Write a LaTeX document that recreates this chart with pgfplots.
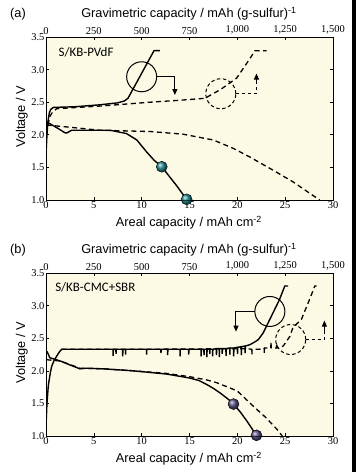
\documentclass[border=0pt]{standalone}
\usepackage{fontspec}
\setmainfont{Liberation Sans}
\newfontfamily\tickfont{Liberation Serif}
\newfontfamily\calfont{Carlito}
\usepackage{pgfplots}
\pgfplotsset{compat=1.18}
\usetikzlibrary{arrows.meta}
\definecolor{bgc}{RGB}{252,249,228}
\definecolor{tealc}{RGB}{30,135,140}
\definecolor{purc}{RGB}{85,78,130}
\pgfplotsset{
 mainax/.style={
  scale only axis, width=287bp, height=163bp,
  xmin=0, xmax=30, ymin=1, ymax=3.5,
  clip mode=individual,
  axis background/.style={fill=bgc},
  xtick={0,5,...,30}, ytick={1,1.5,...,3.5},
  xtick pos=left,
  tick align=inside, major tick length=3bp,
  tick style={line width=0.6bp, black},
  /pgf/number format/assume math mode=true,
  tick label style={font=\tickfont\fontsize{10.5}{11}\selectfont},
  yticklabel style={/pgf/number format/fixed, /pgf/number format/fixed zerofill, /pgf/number format/precision=1, xshift=2bp},
  xticklabel style={yshift=1.5bp},
  axis line style={line width=0.9bp},
  xlabel={Areal capacity / mAh cm\textsuperscript{-2}},
  ylabel={Voltage / V},
  label style={font=\fontsize{12.8}{14}\selectfont},
  xlabel style={at={(axis description cs:0.498,-0.141)}, anchor=center},
  ylabel style={at={(axis description cs:-0.084,0.51)}, anchor=center},
 },
 topax/.style={
  scale only axis, width=287bp, height=163bp,
  xmin=0, xmax=1500, ymin=1, ymax=3.5,
  hide y axis,
  xtick={0,250,...,1500},
  xticklabels={0,250,500,750,{1,000},{1,250},{1,500}},
  xtick pos=right, xticklabel pos=right,
  tick align=inside, major tick length=3bp,
  tick style={line width=0.6bp, black},
  /pgf/number format/assume math mode=true,
  tick label style={font=\tickfont\fontsize{10.5}{11}\selectfont},
  xticklabel style={yshift=-1bp},
  axis line style={line width=0.9bp},
  xlabel={Gravimetric capacity / mAh (g-sulfur)\textsuperscript{-1}},
  label style={font=\fontsize{12.8}{14}\selectfont},
  xlabel style={at={(axis description cs:0.498,1.141)}, anchor=center},
 },
 sline/.style={black, line width=1.4bp},
 dline/.style={black, line width=1.3bp, dash pattern=on 5bp off 3.5bp},
}
\begin{document}
\begin{tikzpicture}
\path[use as bounding box, fill=white] (0,0) rectangle (356bp,472bp);
\fill[black] (352bp,0) rectangle (356bp,472bp);

% ---------------- panel (a) ----------------
\begin{axis}[mainax, at={(46bp,272bp)}, anchor=south west]
% solid charge
\addplot[sline] coordinates {(0,1.7) (0.1,2.0) (0.2,2.2) (0.35,2.34) (0.5,2.39) (0.77,2.42) (3,2.43) (5.64,2.46) (7.5,2.49) (8.2,2.52) (8.57,2.56) (11.29,3.29) (11.9,3.29)};
% solid discharge
\addplot[sline] coordinates {(0.05,2.2) (1.0,2.12) (2.0,2.03) (2.2,2.03) (2.68,2.07) (5,2.07) (6.7,2.07) (8.4,2.02) (9.5,1.92) (10.5,1.74) (11.3,1.61) (12.1,1.51) (12.9,1.36) (13.6,1.23) (14.2,1.11) (14.7,1.01)};
% dashed charge
\addplot[dline] coordinates {(0.2,2.15) (0.4,2.28) (0.6,2.33) (1.1,2.40) (5.6,2.44) (10.9,2.5) (14.0,2.53) (16.62,2.56) (18.3,2.70) (19.93,2.87) (21.0,3.10) (21.85,3.29) (23.07,3.29)};
% dashed discharge
\addplot[dline] coordinates {(0.07,2.15) (2.2,2.12) (5.6,2.07) (10.9,2.05) (14.3,2.01) (17.5,1.92) (19.6,1.79) (21.3,1.66) (23.7,1.46) (25.8,1.28) (27.6,1.10) (28.6,1.0)};
\addplot[only marks, mark=ball, mark size=5.5bp, mark options={ball color=tealc}] coordinates {(12.1,1.51) (14.7,1.01)};
% annotations
\draw[line width=1bp] (axis cs:10.0,2.89) circle[radius=15bp];
\draw[line width=1bp, -{Triangle[width=5bp,length=6bp]}] (axis cs:11.57,2.90) -- (axis cs:13.47,2.90) -- (axis cs:13.47,2.61);
\draw[line width=1bp, dash pattern=on 3.5bp off 2.5bp] (axis cs:18.27,2.63) circle[radius=15bp];
\draw[line width=1bp, dash pattern=on 3.5bp off 2.5bp] (axis cs:19.84,2.63) -- (axis cs:22.0,2.63) -- (axis cs:22.0,2.8);
\draw[line width=1bp, -{Triangle[width=5bp,length=6bp]}] (axis cs:22.0,2.78) -- (axis cs:22.0,2.94);
\node[anchor=west, font=\calfont\fontsize{13}{14}\selectfont] at (axis cs:0.95,3.27) {S/KB-PVdF};
\node[font=\fontsize{12.8}{14}\selectfont] at (axis description cs:-0.0976,1.141) {(a)};
\end{axis}
\begin{axis}[topax, at={(46bp,272bp)}, anchor=south west]
\end{axis}

% ---------------- panel (b) ----------------
\begin{axis}[mainax, at={(46bp,36bp)}, anchor=south west]
% solid charge
\addplot[sline] coordinates {(0,1.15) (0.1,1.5) (0.24,1.77) (0.45,1.97) (0.6,2.07) (0.85,2.16) (1.1,2.22) (1.4,2.29) (1.64,2.33) (4,2.33)
(7.0,2.33) (7.02,2.23) (7.04,2.33)
(7.3,2.33) (7.32,2.26) (7.34,2.33)
(8.0,2.33) (8.02,2.22) (8.04,2.33)
(8.3,2.33) (8.32,2.25) (8.34,2.33)
(10.5,2.33) (10.52,2.25) (10.54,2.33)
(12.0,2.33) (12.02,2.27) (12.04,2.33)
(12.7,2.33) (12.72,2.24) (12.74,2.33)
(14.0,2.33) (14.02,2.22) (14.04,2.33)
(14.9,2.33) (14.92,2.25) (14.94,2.33)
(16.2,2.33) (16.22,2.22) (16.24,2.33)
(16.5,2.33) (16.52,2.24) (16.54,2.33)
(16.8,2.33) (16.82,2.21) (16.84,2.33)
(17.1,2.33) (17.12,2.26) (17.14,2.33)
(17.4,2.33) (17.42,2.22) (17.44,2.33)
(17.8,2.34) (17.82,2.24) (17.84,2.34)
(18.1,2.34) (18.12,2.21) (18.14,2.34)
(18.4,2.34) (18.42,2.26) (18.44,2.34)
(18.8,2.34) (18.82,2.23) (18.84,2.34)
(19.2,2.35) (19.22,2.25) (19.24,2.35)
(19.6,2.35) (19.62,2.22) (19.64,2.35)
(20.0,2.36) (20.02,2.26) (20.04,2.36)
(20.4,2.37) (20.42,2.24) (20.44,2.37)
(20.8,2.38) (20.82,2.27) (20.84,2.38)
(21.3,2.40) (21.8,2.44) (22.2,2.48) (22.7,2.58) (23.4,2.79) (24.4,3.09) (24.96,3.30) (25.3,3.30)};
% dashed charge
\addplot[dline] coordinates {(1.64,2.33) (10,2.33) (21.0,2.34) (21.5,2.33) (21.52,2.25) (21.54,2.33) (22.3,2.33) (22.8,2.35) (22.82,2.27) (22.84,2.35) (23.5,2.35) (23.52,2.45) (23.54,2.35) (24.1,2.35) (24.12,2.43) (24.14,2.35) (24.8,2.38) (25.5,2.53) (25.8,2.66) (26.7,2.79) (27.4,3.04) (28.1,3.30) (28.3,3.30)};
% solid discharge
\addplot[sline] coordinates {(0.1,2.3) (0.4,2.2) (1.5,2.15) (2.5,2.09) (3.55,2.03) (4.2,2.04) (6,2.03) (9.1,2.0) (12.6,1.95) (15.0,1.89) (16.0,1.85) (16.8,1.79) (17.5,1.73) (18.2,1.66) (19.0,1.57) (19.6,1.49) (20.3,1.37) (21,1.23) (21.5,1.12) (22,1.0)};
% dashed discharge
\addplot[dline] coordinates {(0.05,2.17) (1.5,2.15) (3.55,2.04) (6,2.03) (9.1,2.0) (12.6,1.96) (15.0,1.91) (16.8,1.86) (17.8,1.82) (19.0,1.75) (20.0,1.69) (21.65,1.46) (23.0,1.28) (24.1,1.11) (24.7,1.0)};
\addplot[only marks, mark=ball, mark size=5.5bp, mark options={ball color=purc}] coordinates {(19.6,1.49) (22.0,1.01)};
% annotations
\draw[line width=1bp] (axis cs:23.4,2.91) circle[radius=15bp];
\draw[line width=1bp, -{Triangle[width=5bp,length=6bp]}] (axis cs:21.83,2.91) -- (axis cs:19.86,2.91) -- (axis cs:19.86,2.6);
\draw[line width=1bp, dash pattern=on 3.5bp off 2.5bp] (axis cs:25.58,2.48) circle[radius=15bp];
\draw[line width=1bp, dash pattern=on 3.5bp off 2.5bp] (axis cs:27.15,2.48) -- (axis cs:29.1,2.48) -- (axis cs:29.1,2.62);
\draw[line width=1bp, -{Triangle[width=5bp,length=6bp]}] (axis cs:29.1,2.6) -- (axis cs:29.1,2.77);
\node[anchor=west, font=\calfont\fontsize{13}{14}\selectfont] at (axis cs:0.6,3.28) {S/KB-CMC+SBR};
\node[font=\fontsize{12.8}{14}\selectfont] at (axis description cs:-0.0976,1.141) {(b)};
\end{axis}
\begin{axis}[topax, at={(46bp,36bp)}, anchor=south west]
\end{axis}
\end{tikzpicture}
\end{document}
